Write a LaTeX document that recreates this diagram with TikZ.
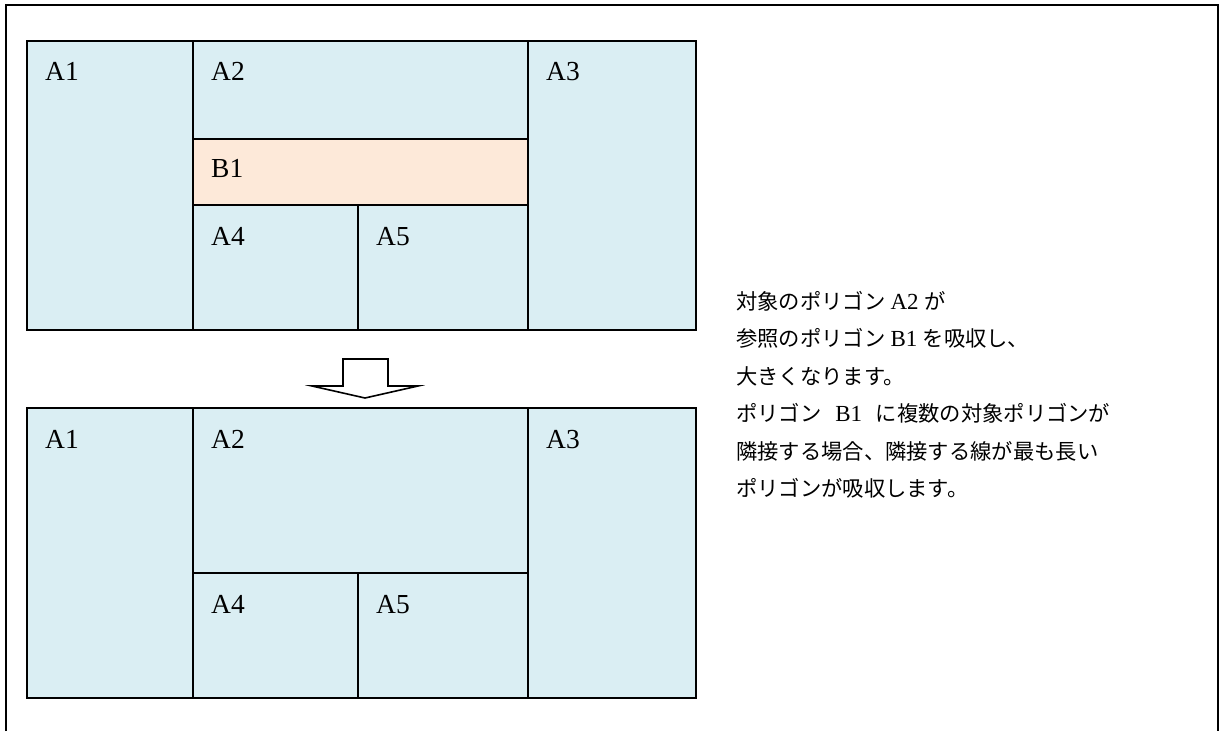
\documentclass[tikz,border=0pt]{standalone}
\usepackage{fontspec}
\setmainfont{Liberation Serif}
\newfontfamily\jp{Noto Sans CJK JP}
\newcommand{\lat}[1]{{\fontsize{23}{24}\selectfont #1}}
\begin{document}
\begin{tikzpicture}[x=1pt,y=1pt,
  cell/.style={draw=black,line width=1.6pt,fill=cellblue,anchor=north west,inner sep=0,outer sep=0},
  cellb/.style={cell,fill=cellpeach},
  lbl/.style={anchor=base west,inner sep=0,font=\fontsize{27.5}{32}\selectfont},
  txt/.style={anchor=base west,inner sep=0,font=\fontsize{21.3}{24}\selectfont}]
\definecolor{cellblue}{HTML}{DAEEF3}
\definecolor{cellpeach}{HTML}{FDE9D9}
\useasboundingbox (0,0) rectangle (1221,-731);
% frame
\coordinate (f1) at (6,-731);
\coordinate (f2) at (6,-5);
\coordinate (f3) at (1218,-5);
\coordinate (f4) at (1218,-731);
\draw[line width=2pt] (f1) -- (f2) -- (f3) -- (f4);
% top diagram
\node[cell,minimum width=166,minimum height=289] (ta1) at (27,-41) {};
\node[cell,minimum width=335,minimum height=98] (ta2) at (193,-41) {};
\node[cellb,minimum width=335,minimum height=66] (tb1) at (193,-139) {};
\node[cell,minimum width=165,minimum height=125] (ta4) at (193,-205) {};
\node[cell,minimum width=170,minimum height=125] (ta5) at (358,-205) {};
\node[cell,minimum width=168,minimum height=289] (ta3) at (528,-41) {};
\node[lbl] (lta1) at (45,-80) {A1};
\node[lbl] (lta2) at (211,-80) {A2};
\node[lbl] (lta3) at (546,-80) {A3};
\node[lbl] (ltb1) at (211,-177) {B1};
\node[lbl] (lta4) at (211,-245) {A4};
\node[lbl] (lta5) at (376,-245) {A5};
% arrow
\draw[line width=1.6pt,fill=white,line join=miter]
  (343,-359) -- (388,-359) -- (388,-386) -- (418,-386) -- (365,-398) -- (312,-386) -- (343,-386) -- cycle;
% bottom diagram
\node[cell,minimum width=166,minimum height=290] (ba1) at (27,-408) {};
\node[cell,minimum width=335,minimum height=165] (ba2) at (193,-408) {};
\node[cell,minimum width=165,minimum height=125] (ba4) at (193,-573) {};
\node[cell,minimum width=170,minimum height=125] (ba5) at (358,-573) {};
\node[cell,minimum width=168,minimum height=290] (ba3) at (528,-408) {};
\node[lbl] (lba1) at (45,-448) {A1};
\node[lbl] (lba2) at (211,-448) {A2};
\node[lbl] (lba3) at (546,-448) {A3};
\node[lbl] (lba4) at (211,-613) {A4};
\node[lbl] (lba5) at (376,-613) {A5};
% description
\node[txt] (t1) at (736,-309) {{\jp 対象のポリゴン} \lat{A2} {\jp が}};
\node[txt] (t2) at (736,-346) {{\jp 参照のポリゴン} \lat{B1} {\jp を吸収し、}};
\node[txt] (t3) at (736,-384) {\jp 大きくなります。};
\node[txt] (t4) at (736,-421) {{\jp ポリゴン}\hspace{0.4em} \lat{B1} \hspace{0.4em}{\jp に複数の対象ポリゴンが}};
\node[txt] (t5) at (736,-459) {\jp 隣接する場合、隣接する線が最も長い};
\node[txt] (t6) at (736,-496) {\jp ポリゴンが吸収します。};
\end{tikzpicture}
\end{document}
